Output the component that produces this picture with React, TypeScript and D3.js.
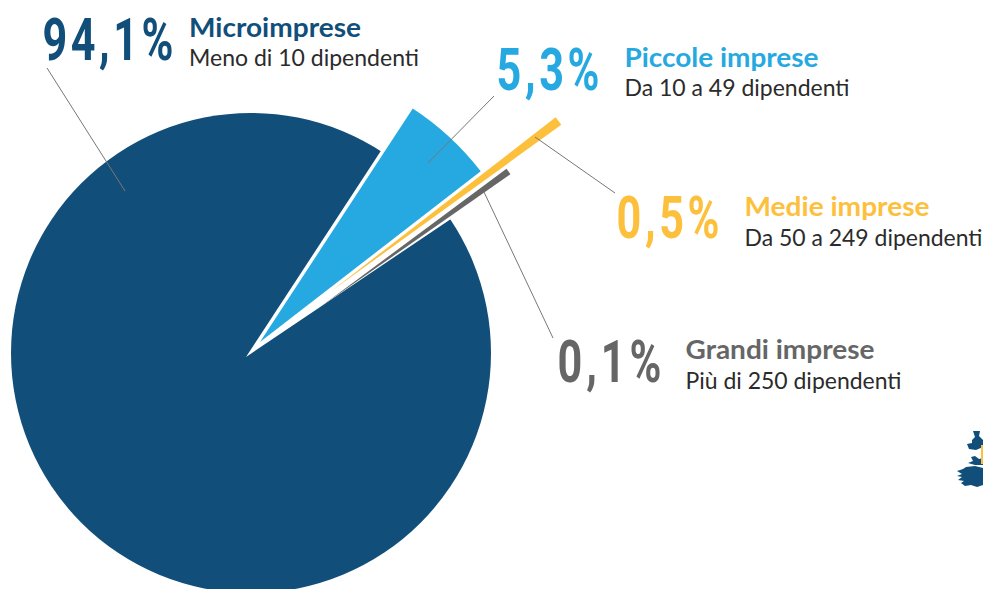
import React from "react";
import * as d3 from "d3";

const categories = ["Microimprese", "Piccole imprese", "Medie imprese", "Grandi imprese"];
const subtitles = ["Meno di 10 dipendenti", "Da 10 a 49 dipendenti", "Da 50 a 249 dipendenti", "Più di 250 dipendenti"];
const values = [94.1, 5.3, 0.5, 0.1];
const valueLabels = ["94,1%", "5,3%", "0,5%", "0,1%"];
const colors = ["#114f7a", "#25a9e0", "#fdc03d", "#666666"];
const NAVY = colors[0];
const deg = Math.PI / 180;

// wedges clockwise, beginning with the blue slice at 33.2° from north
const pieGen = d3.pie<number>().sort(null).value((d) => d).startAngle(33.2 * deg);
const ordered = [values[1], values[2], values[3], values[0]];
const arcs = pieGen.endAngle(33.2 * deg + 2 * Math.PI)(ordered);
const [blueA, yellowA, greyA, microA] = arcs;

const arcGen = d3.arc<any>().innerRadius(0);
const pol = (r: number, a: number) => [r * Math.sin(a), -r * Math.cos(a)];

const slices = [
  { a: blueA, r: 279, cx: 260, cy: 342, k: 1 },
  { a: yellowA, r: 285, tip: [558.5, 121], k: 1.05 },
  { a: greyA, r: 232, tip: [508.5, 171.5], k: 4.6 },
];

const leaders = [
  [[47, 68], [125, 191]],
  [[494, 96], [428, 163]],
  [[535, 137], [615, 193]],
  [[484, 192], [553, 338]],
];

const bigLabels = [
  { x: 42.5, y: 60, w: 131 },
  { x: 496.5, y: 90, w: 103 },
  { x: 616.5, y: 238, w: 103 },
  { x: 557.5, y: 382, w: 104 },
];
const textLabels = [
  { x: 189, y: 37, y2: 66, w: 172, w2: 230 },
  { x: 624.5, y: 67, y2: 96, w: 194, w2: 225 },
  { x: 744.5, y: 216, y2: 246, w: 185, w2: 238 },
  { x: 685.5, y: 359, y2: 389, w: 189, w2: 216 },
];

const BIG_SCALE = 0.72;

const mapParts = [
  "M973,431L980,431L979,436L983,440L983,447L976,450L969,449L967,444L972,443L972,440L975,437Z",
  "M971,457L975,456L979,459L983,458L983,465L975,465L968,463L973,461Z",
  "M957,471L963,469L966,467L975,466L983,468L983,485L977,487L971,485L965,486L961,483L964,481L958,480L962,477L957,476L962,474Z",
];

export default function App() {
  return (
    <svg width={983} height={589} viewBox="0 0 983 589"
      style={{ position: "absolute", left: 0, top: 0, display: "block", background: "#fff" }}>
      <path transform="translate(251,353)" fill={NAVY}
        d={arcGen({ outerRadius: 240, startAngle: 0, endAngle: 2 * Math.PI }) as string} />
      <path transform="translate(246,357)" fill="#fff"
        d={arcGen({ outerRadius: 340, startAngle: blueA.startAngle, endAngle: microA.startAngle + 1.6 * deg }) as string} />
      {slices.map((s, i) => {
        const mid = (s.a.startAngle + s.a.endAngle) / 2;
        const half = ((s.a.endAngle - s.a.startAngle) / 2) * s.k;
        let cx = (s as any).cx, cy = (s as any).cy;
        if ((s as any).tip) {
          const [dx, dy] = pol(s.r, mid);
          cx = (s as any).tip[0] - dx;
          cy = (s as any).tip[1] - dy;
        }
        return (
          <path key={i} transform={`translate(${cx},${cy})`} fill={colors[i + 1]}
            d={arcGen({ outerRadius: s.r, startAngle: mid - half, endAngle: mid + half }) as string} />
        );
      })}
      {leaders.map((l, i) => (
        <path key={i} d={d3.line()(l as [number, number][]) as string} fill="none" stroke="#777" strokeWidth={1} />
      ))}
      {categories.map((c, i) => (
        <g key={c}>
          <text transform={`translate(${bigLabels[i].x},${bigLabels[i].y}) scale(${BIG_SCALE},1)`}
            textLength={bigLabels[i].w / BIG_SCALE} lengthAdjust="spacing"
            fill={colors[i]} fontFamily="Roboto,sans-serif" fontWeight={700} fontSize={60}>
            {valueLabels[i]}
          </text>
          <text x={textLabels[i].x} y={textLabels[i].y} textLength={textLabels[i].w} lengthAdjust="spacingAndGlyphs"
            fill={colors[i]} fontFamily="Lato,sans-serif" fontWeight={700} fontSize={27}>
            {c}
          </text>
          <text x={textLabels[i].x} y={textLabels[i].y2} textLength={textLabels[i].w2} lengthAdjust="spacingAndGlyphs"
            fill="#2b2b2b" fontFamily="Lato,sans-serif" fontWeight={400} fontSize={23}>
            {subtitles[i]}
          </text>
        </g>
      ))}
      {mapParts.map((d, i) => <path key={i} d={d} fill={NAVY} />)}
      <rect x={981} y={445} width={3} height={19} fill={colors[2]} />
    </svg>
  );
}
